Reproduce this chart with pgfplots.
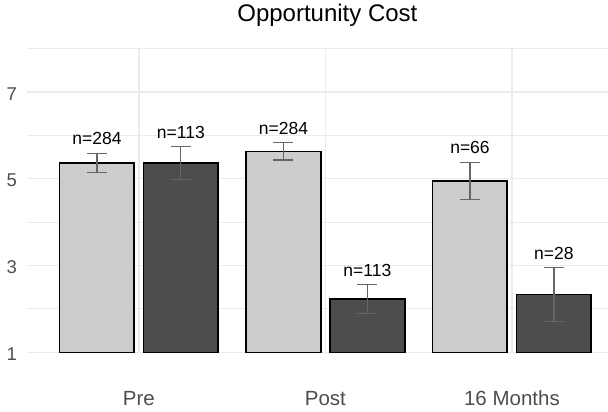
\documentclass[border=0pt]{standalone}
\usepackage{pgfplots}
\pgfplotsset{compat=1.18}
\usepackage{fontspec}
\setmainfont{Liberation Sans}
\definecolor{lightbar}{HTML}{CCCCCC}
\definecolor{darkbar}{HTML}{4D4D4D}
\definecolor{gridc}{HTML}{EBEBEB}
\definecolor{errc}{HTML}{666666}
\definecolor{axtext}{HTML}{4D4D4D}
\pgfplotstableread{
x y e
0.775 5.36 0.225
1.775 5.63 0.20
2.775 4.95 0.43
}\lightdata
\pgfplotstableread{
x y e
1.225 5.36 0.38
2.225 2.23 0.33
3.225 2.33 0.62
}\darkdata
\pgfplotstableread{
x y lab
0.775 5.585 n=284
1.225 5.74 n=113
1.775 5.83 n=284
2.225 2.56 n=113
2.775 5.38 n=66
3.225 2.95 n=28
}\labdata
\begin{document}
\begin{tikzpicture}[x=1bp,y=1bp]
\begin{axis}[
  at={(0,0)}, anchor=south west,
  scale only axis, width=581bp, height=303.8bp,
  xmin=0.4, xmax=3.515, ymin=1, ymax=8,
  axis line style={draw=none},
  major tick length=0pt, minor tick length=0pt,
  xtick={1,2,3}, xticklabels={Pre,Post,16 Months},
  ytick={1,3,5,7}, minor ytick={2,4,6,8},
  xmajorgrids, ymajorgrids, yminorgrids,
  major grid style={gridc, line width=1.4bp},
  minor grid style={gridc, line width=1bp},
  /pgf/number format/assume math mode=true,
  yticklabel style={font=\fontsize{18.5bp}{20bp}\selectfont, text=axtext, anchor=east, inner sep=0pt, xshift=-10bp, yshift=-2bp},
  xticklabel style={font=\fontsize{20.5bp}{22bp}\selectfont, text=axtext, anchor=base, inner sep=0pt, yshift=-53bp},
  title={Opportunity Cost},
  title style={at={(0.517,1)}, anchor=base, inner sep=0pt, yshift=21.5bp, font=\fontsize{24bp}{26bp}\selectfont, text=black},
  clip=false,
]
\addplot[ybar, bar width=0.4, bar shift=0pt, fill=lightbar, draw=black, line width=1.6bp,
  error bars/.cd, y dir=both, y explicit,
  error bar style={errc, line width=1.2bp},
  error mark options={errc, line width=1.2bp, mark size=10bp, rotate=90}]
  table[x=x, y=y, y error=e] {\lightdata};
\addplot[ybar, bar width=0.4, bar shift=0pt, fill=darkbar, draw=black, line width=1.6bp,
  error bars/.cd, y dir=both, y explicit,
  error bar style={errc, line width=1.2bp},
  error mark options={errc, line width=1.2bp, mark size=10bp, rotate=90}]
  table[x=x, y=y, y error=e] {\darkdata};
\addplot[draw=none, mark=none, nodes near coords, point meta=explicit symbolic,
  nodes near coords style={anchor=base, inner sep=0pt, yshift=8.5bp, font=\fontsize{17.5bp}{19bp}\selectfont, text=black}]
  table[x=x, y=y, meta=lab] {\labdata};
\end{axis}
\pgfresetboundingbox
\path[use as bounding box] (-27,-58.7) rectangle (581,352.3);
\end{tikzpicture}
\end{document}
